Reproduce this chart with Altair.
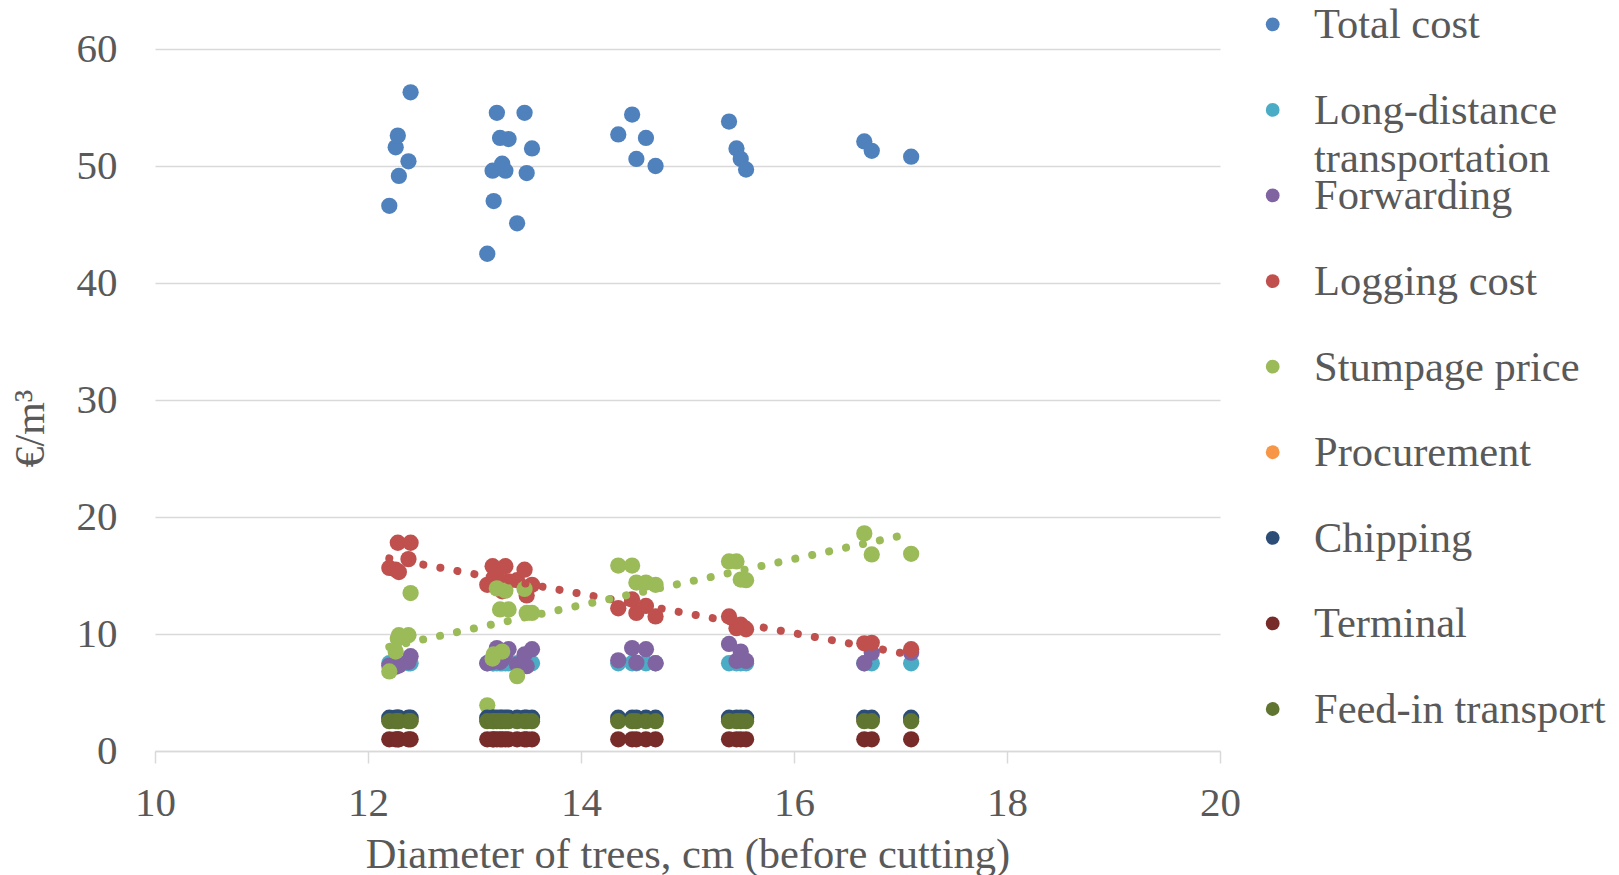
import altair as alt
import pandas as pd

FONT = "Liberation Serif"
TEXT_COLOR = "#595959"
GRID_COLOR = "#D9D9D9"

# Series, in drawing order
series_names = [
    "Total cost",
    "Long-distance transportation",
    "Forwarding",
    "Logging cost",
    "Stumpage price",
    "Procurement",
    "Chipping",
    "Terminal",
    "Feed-in transport",
]
series_labels = [
    "Total cost",
    "Long-distance\ntransportation",
    "Forwarding",
    "Logging cost",
    "Stumpage price",
    "Procurement",
    "Chipping",
    "Terminal",
    "Feed-in transport",
]
series_colors = [
    "#4F81BD", "#4BACC6", "#8064A2", "#C0504D", "#9BBB59",
    "#F79646", "#2C4D75", "#772C2A", "#5F7530",
]

# Diameter of trees before cutting, cm (one entry per stand)
diameter = [
    12.20, 12.26, 12.28, 12.29, 12.38, 12.40,
    13.12, 13.17, 13.18, 13.21, 13.24, 13.26, 13.29, 13.32, 13.40, 13.47, 13.49, 13.54,
    14.35, 14.48, 14.52, 14.61, 14.70,
    15.39, 15.46, 15.50, 15.55,
    16.66, 16.73,
    17.10,
]

# Costs, EUR/m3
total_cost = [
    46.6, 51.6, 52.6, 49.15, 50.4, 56.3,
    42.5, 49.6, 47.0, 54.55, 52.4, 50.2, 49.6, 52.3, 45.1, 54.55, 49.4, 51.5,
    52.7, 54.4, 50.6, 52.4, 50.0,
    53.8, 51.5, 50.6, 49.7,
    52.1, 51.3,
    50.8,
]
long_distance = [
    7.5, 7.5, 7.5, 7.5, 7.5, 7.5,
    7.5, 7.5, 7.5, 7.5, 7.5, 7.5, 7.5, 7.5, 7.5, 7.5, 7.5, 7.5,
    7.5, 7.5, 7.5, 7.5, 7.5,
    7.5, 7.5, 7.5, 7.5,
    7.5, 7.5,
    7.5,
]
forwarding = [
    7.3, 7.2, 7.5, 7.3, 7.6, 8.1,
    7.5, 7.6, 8.0, 8.8, 7.6, 7.8, 8.3, 8.7, 7.4, 8.25, 7.25, 8.7,
    7.75, 8.8, 7.55, 8.7, 7.5,
    9.15, 7.7, 8.5, 7.7,
    7.5, 8.4,
    8.4,
]
logging_cost = [
    15.65, 15.5, 17.8, 15.3, 16.4, 17.8,
    14.2, 15.8, 14.8, 15.0, 14.5, 13.65, 15.8, 14.5, 14.6, 15.5, 13.3, 14.2,
    12.2, 12.95, 11.8, 12.4, 11.5,
    11.5, 10.5, 10.8, 10.4,
    9.2, 9.25,
    8.7,
]
stumpage_price = [
    6.8, 8.5, 9.6, 9.9, 9.9, 13.5,
    3.9, 7.9, 8.25, 13.9, 12.1, 8.5, 13.7, 12.1, 6.4, 13.85, 11.8, 11.8,
    15.85, 15.85, 14.4, 14.4, 14.2,
    16.2, 16.2, 14.65, 14.6,
    18.6, 16.8,
    16.85,
]
procurement = [2.7] * 30
chipping = [2.85] * 30
terminal = [1.0] * 30
feed_in = [2.55] * 30

series_values = [
    total_cost, long_distance, forwarding, logging_cost, stumpage_price,
    procurement, chipping, terminal, feed_in,
]

rows = []
for k, (name, vals) in enumerate(zip(series_names, series_values)):
    for d, v in zip(diameter, vals):
        rows.append({"d": d, "value": v, "series": name, "k": k})
scatter_df = pd.DataFrame(rows)

color = alt.Color(
    "series:N",
    scale=alt.Scale(domain=series_names, range=series_colors),
    legend=None,
)

x_scale = alt.Scale(domain=[10, 20], nice=False, zero=False)
y_scale = alt.Scale(domain=[0, 60], nice=False)

x_enc = alt.X(
    "d:Q",
    scale=x_scale,
    axis=alt.Axis(
        values=[10, 12, 14, 16, 18, 20],
        format="d",
        labelFlush=False,
        grid=False,
        domain=True,
        domainColor=GRID_COLOR,
        domainWidth=1.5,
        ticks=True,
        tickColor=GRID_COLOR,
        tickWidth=1.5,
        tickSize=12,
        labelPadding=20,
        labelFont=FONT,
        labelFontSize=41,
        labelColor=TEXT_COLOR,
        title="Diameter of trees, cm (before cutting)",
        titleFont=FONT,
        titleFontSize=42.5,
        titleFontWeight="normal",
        titleColor=TEXT_COLOR,
        titlePadding=10,
    ),
)
y_enc = alt.Y(
    "value:Q",
    scale=y_scale,
    axis=alt.Axis(
        values=[0, 10, 20, 30, 40, 50, 60],
        format="d",
        labelFlush=False,
        grid=True,
        gridColor=GRID_COLOR,
        gridWidth=1.3,
        domain=False,
        ticks=False,
        labelPadding=38,
        labelFont=FONT,
        labelFontSize=41,
        labelColor=TEXT_COLOR,
        title="€/m³",
        titleFont=FONT,
        titleFontSize=42,
        titleFontWeight="normal",
        titleColor=TEXT_COLOR,
        titleX=-125,
        titleY=379,
        titleAlign="center",
        titleBaseline="middle",
    ),
)

points = alt.Chart(scatter_df).mark_circle(size=265, opacity=1).encode(
    x=x_enc,
    y=y_enc,
    color=color,
    order=alt.Order("k:Q"),
)

# Linear trend lines for logging cost and stumpage price
trends = (
    alt.Chart(scatter_df)
    .transform_filter(
        alt.FieldOneOfPredicate(field="series", oneOf=["Logging cost", "Stumpage price"])
    )
    .transform_regression("d", "value", groupby=["series"])
    .mark_line(strokeDash=[0.01, 17.3], strokeCap="round", strokeWidth=8)
    .encode(
        x=alt.X("d:Q", scale=x_scale),
        y=alt.Y("value:Q", scale=y_scale),
        color=color,
    )
)

# Legend drawn as its own layer
legend_df = pd.DataFrame({"series": series_names, "label": series_labels})
leg_y = alt.Y(
    "series:N",
    sort=series_names,
    axis=None,
    scale=alt.Scale(domain=series_names, range=[-24.7, 660], padding=0),
)
legend_dots = alt.Chart(legend_df).mark_circle(size=190, opacity=1).encode(
    x=alt.value(1117.7),
    y=leg_y,
    color=color,
)
legend_text = alt.Chart(legend_df).mark_text(
    align="left",
    baseline="alphabetic",
    dy=14,
    font=FONT,
    fontSize=42.5,
    color=TEXT_COLOR,
    lineBreak="\n",
    lineHeight=47.7,
).encode(
    x=alt.value(1159),
    y=leg_y,
    text="label:N",
)

chart = (
    alt.layer(alt.layer(points, trends), legend_dots, legend_text)
    .resolve_scale(y="independent")
    .properties(
        width=1065,
        height=702,
        padding={"left": 155, "top": 49, "right": 399, "bottom": 124},
        autosize=alt.AutoSizeParams(type="none"),
        background="white",
    )
    .configure_view(strokeWidth=0)
)

chart.save("out.html", embed_options={"renderer": "svg", "actions": False})
